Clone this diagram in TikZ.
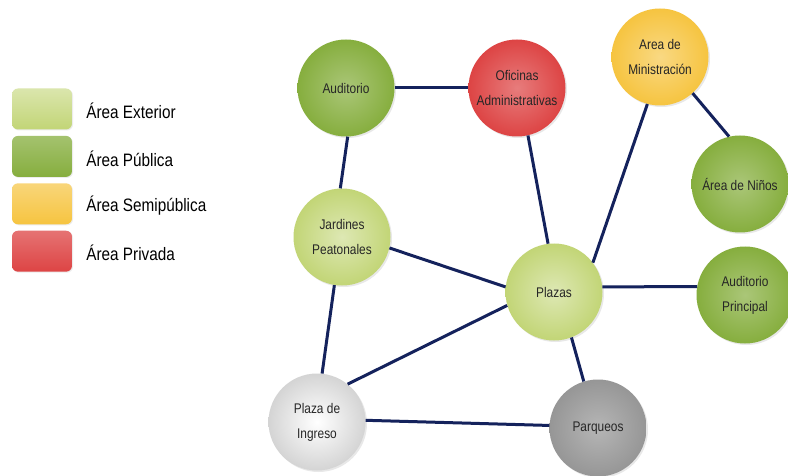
\documentclass[tikz,border=0pt]{standalone}
\usepackage{fontspec}
\setmainfont[FakeStretch=0.85]{Liberation Sans}
\usepackage{xcolor}
\usetikzlibrary{positioning,shadows}
\definecolor{extgreen}{RGB}{194,213,118}
\definecolor{pubgreen}{RGB}{134,174,62}
\definecolor{semiyellow}{RGB}{246,196,64}
\definecolor{privred}{RGB}{221,68,68}
\definecolor{ingrey}{RGB}{212,212,212}
\definecolor{pargrey}{RGB}{150,150,150}
\definecolor{linkblue}{RGB}{20,34,92}

\begin{document}
\begin{tikzpicture}[x=1pt,y=-1pt,
  zone/.style ={circle,minimum size=97pt,inner sep=0pt,align=center,
                text=black!85,font=\fontsize{14}{25}\selectfont,
                drop shadow={opacity=0.18,shadow xshift=1.5pt,shadow yshift=-1.5pt}},
  ext/.style  ={zone,inner color=extgreen!55!white,outer color=extgreen},
  pub/.style  ={zone,inner color=pubgreen!70!white,outer color=pubgreen},
  semi/.style ={zone,inner color=semiyellow!65!white,outer color=semiyellow},
  priv/.style ={zone,inner color=privred!70!white,outer color=privred},
  key/.style  ={rounded corners=6pt,minimum width=60pt,minimum height=41pt,inner sep=0pt,
                drop shadow={opacity=0.15,shadow xshift=1pt,shadow yshift=-1pt}},
  keytext/.style={font=\fontsize{18}{20}\selectfont,inner sep=0pt,yshift=-2pt},
  link/.style ={draw=linkblue,line width=3pt},
  node distance=6pt,
]
\fill[white] (0,0) rectangle (788,476);
\useasboundingbox (0,0) rectangle (788,476);

% legend
\node[key,top color=extgreen!60!white,bottom color=extgreen] (kext) at (42,109) {};
\node[key,top color=pubgreen!75!white,bottom color=pubgreen,below=of kext] (kpub) {};
\node[key,top color=semiyellow!70!white,bottom color=semiyellow,below=of kpub] (ksemi) {};
\node[key,top color=privred!75!white,bottom color=privred,below=of ksemi] (kpriv) {};
\node[keytext,right=14pt of kext]  (text) {Área Exterior};
\node[keytext,right=14pt of kpub]  (tpub) {Área Pública};
\node[keytext,right=14pt of ksemi] (tsemi){Área Semipública};
\node[keytext,right=14pt of kpriv] (tpriv){Área Privada};

% zones
\node[pub]  (aud) at (346,88)  {Auditorio};
\node[priv] (ofi) at (517,88)  {Oficinas\\Administrativas};
\node[semi] (min) at (660,57)  {Area de\\Ministración};
\node[pub]  (nin) at (740,184) {Área de Niños};
\node[ext]  (jar) at (342,237) {Jardines\\Peatonales};
\node[ext]  (pla) at (554,292) {Plazas};
\node[pub]  (aup) at (745,295) {Auditorio\\Principal};
\node[zone,inner color=white,outer color=ingrey] (ing) at (317,422) {Plaza de\\Ingreso};
\node[zone,inner color=pargrey!70!white,outer color=pargrey] (par) at (598,428) {Parqueos};

% links
\draw[link] (aud.east)  -- (ofi.west);
\draw[link] (aud.-88)   -- (jar.92);
\draw[link] (ofi.-77)   -- (pla.97);
\draw[link] (jar.-13)   -- (pla.174);
\draw[link] (jar.-99)   -- (ing.84);
\draw[link] (pla.-164)  -- (ing.51);
\draw[link] (pla.-69)   -- (par.107);
\draw[link] (ing.2)     -- (par.177);
\draw[link] (pla.6)     -- (aup.170);
\draw[link] (pla.37)    -- (min.-105);
\draw[link] (min.-48)   -- (nin.103);
\end{tikzpicture}
\end{document}
